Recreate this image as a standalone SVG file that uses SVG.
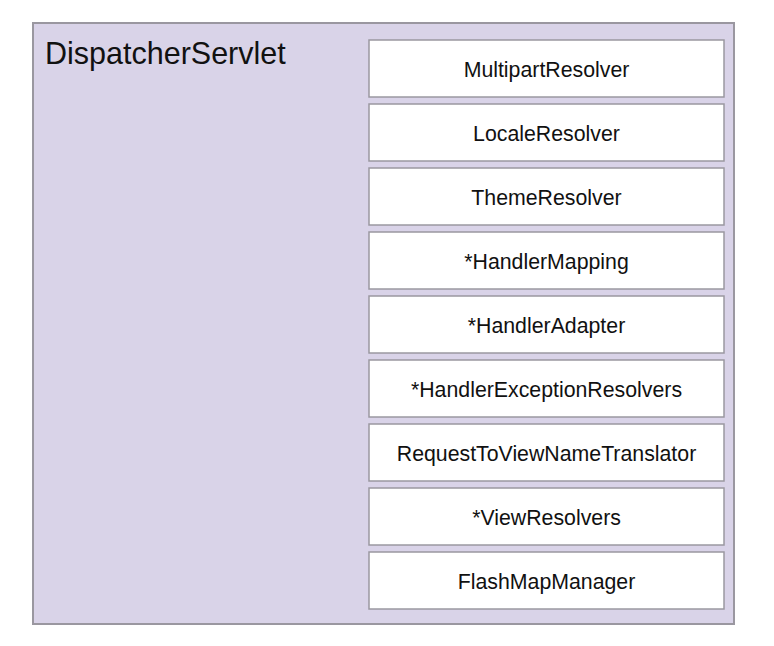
<svg xmlns="http://www.w3.org/2000/svg" width="774" height="646" viewBox="0 0 774 646">
<style>
.outer{fill:#d9d3e8;stroke:#9a97a0;stroke-width:2}
.box{fill:#ffffff;stroke:#9a98a0;stroke-width:1.5}
.lbl{font-family:"Liberation Sans",Arial,sans-serif;font-size:21.3px;fill:#111;text-anchor:middle}
.title{font-family:"Liberation Sans",Arial,sans-serif;font-size:30.5px;fill:#111}
</style>
<rect width="774" height="646" fill="#ffffff"/>
<g id="dispatcherServlet">
<rect class="outer" x="33" y="23" width="701" height="601"/>
<text class="title" x="45" y="64">DispatcherServlet</text>
</g>
<g id="multipartResolver"><rect class="box" x="369" y="40" width="355" height="57"/><text class="lbl" x="546.5" y="76.5">MultipartResolver</text></g>
<g id="localeResolver"><rect class="box" x="369" y="104" width="355" height="57"/><text class="lbl" x="546.5" y="140.5">LocaleResolver</text></g>
<g id="themeResolver"><rect class="box" x="369" y="168" width="355" height="57"/><text class="lbl" x="546.5" y="204.5">ThemeResolver</text></g>
<g id="handlerMapping"><rect class="box" x="369" y="232" width="355" height="57"/><text class="lbl" x="546.5" y="268.5">*HandlerMapping</text></g>
<g id="handlerAdapter"><rect class="box" x="369" y="296" width="355" height="57"/><text class="lbl" x="546.5" y="332.5">*HandlerAdapter</text></g>
<g id="handlerExceptionResolvers"><rect class="box" x="369" y="360" width="355" height="57"/><text class="lbl" x="546.5" y="396.5">*HandlerExceptionResolvers</text></g>
<g id="requestToViewNameTranslator"><rect class="box" x="369" y="424" width="355" height="57"/><text class="lbl" x="546.5" y="460.5">RequestToViewNameTranslator</text></g>
<g id="viewResolvers"><rect class="box" x="369" y="488" width="355" height="57"/><text class="lbl" x="546.5" y="524.5">*ViewResolvers</text></g>
<g id="flashMapManager"><rect class="box" x="369" y="552" width="355" height="57"/><text class="lbl" x="546.5" y="588.5">FlashMapManager</text></g>
<g id="connectors"/>
</svg>
